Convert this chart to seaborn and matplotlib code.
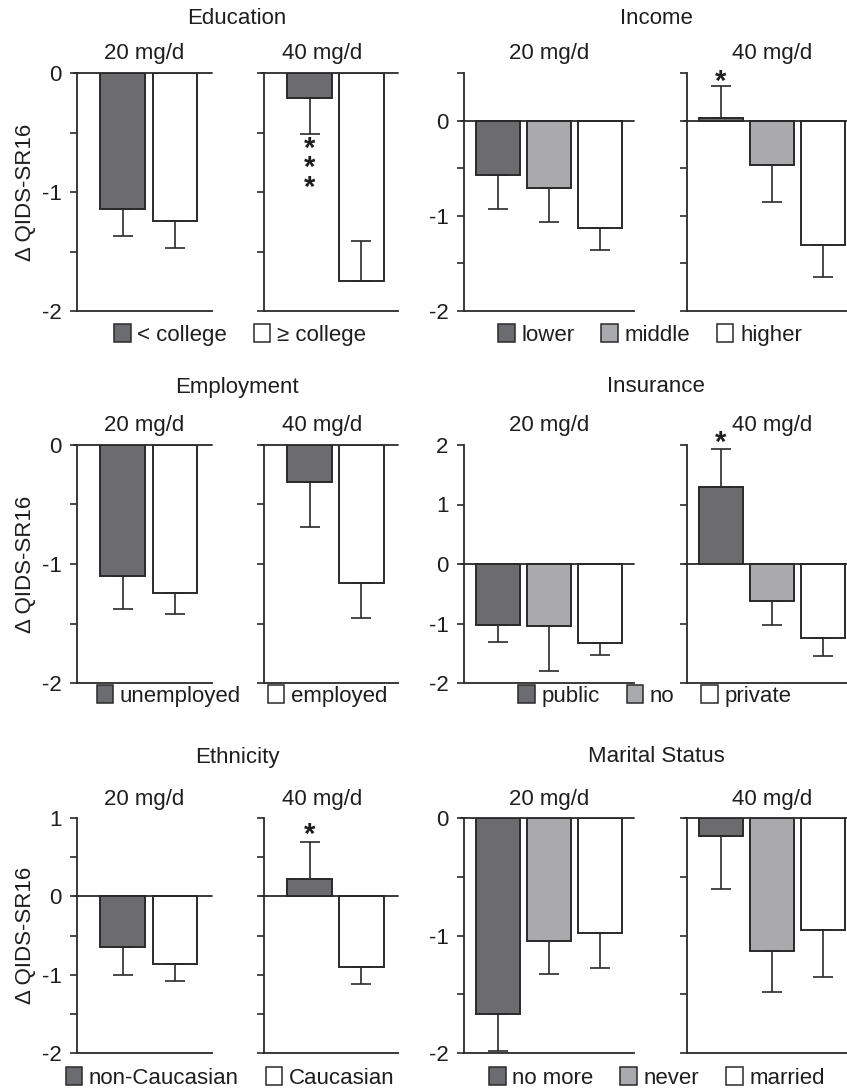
import matplotlib
matplotlib.use("Agg")
import matplotlib.pyplot as plt
from matplotlib.patches import Patch
import seaborn as sns

sns.set_style("white")
plt.rcParams['font.family'] = ['Liberation Sans', 'DejaVu Sans']
plt.rcParams['font.size'] = 16

# colours of the three groups
DARK = "#6b6c70"
MID = "#a9aaad"
WHITE = "#ffffff"
EDGE = "#2a2a2a"
TXT = "#1e1e1e"

# ---------------- data (bar value, end of error bar) ----------------
edu_labels = ["< college", "\u2265 college"]
edu_20 = [-1.14, -1.24]
edu_20_err = [-1.37, -1.47]
edu_40 = [-0.21, -1.75]
edu_40_err = [-0.51, -1.41]

inc_labels = ["lower", "middle", "higher"]
inc_20 = [-0.57, -0.71, -1.13]
inc_20_err = [-0.93, -1.07, -1.36]
inc_40 = [0.03, -0.47, -1.31]
inc_40_err = [0.36, -0.86, -1.64]

emp_labels = ["unemployed", "employed"]
emp_20 = [-1.10, -1.24]
emp_20_err = [-1.38, -1.42]
emp_40 = [-0.31, -1.16]
emp_40_err = [-0.69, -1.45]

ins_labels = ["public", "no", "private"]
ins_20 = [-1.03, -1.05, -1.33]
ins_20_err = [-1.31, -1.80, -1.53]
ins_40 = [1.30, -0.62, -1.24]
ins_40_err = [1.93, -1.03, -1.55]

eth_labels = ["non-Caucasian", "Caucasian"]
eth_20 = [-0.65, -0.86]
eth_20_err = [-1.01, -1.08]
eth_40 = [0.22, -0.90]
eth_40_err = [0.69, -1.12]

mar_labels = ["no more", "never", "married"]
mar_20 = [-1.67, -1.05, -0.98]
mar_20_err = [-1.98, -1.33, -1.28]
mar_40 = [-0.15, -1.13, -0.95]
mar_40_err = [-0.60, -1.48, -1.35]

# significance marks: (bar index, y, text)
edu_stars = (0, -0.80, "*\n*\n*")
inc_stars = (0, 0.41, "*")
ins_stars = (0, 2.04, "*")
eth_stars = (0, 0.79, "*")

W, H = 847, 1091
fig = plt.figure(figsize=(W / 100, H / 100), dpi=100)


def px_axes(x0, x1, y0, y1):
    return fig.add_axes([x0 / W, 1 - y1 / H, (x1 - x0) / W, (y1 - y0) / H])


def draw(ax, labels, vals, ends, colors, ylim, major, minor, xlim, show_labels, stars=None):
    sns.barplot(x=labels, y=vals, hue=labels, palette=colors, width=0.86,
                edgecolor=EDGE, linewidth=1.4, errorbar=None, legend=False,
                ax=ax, zorder=2)
    xs = list(range(len(vals)))
    lo = [max(v - e, 0) for v, e in zip(vals, ends)]
    hi = [max(e - v, 0) for v, e in zip(vals, ends)]
    ax.errorbar(xs, vals, yerr=[lo, hi], fmt="none", ecolor=EDGE,
                elinewidth=1.2, capsize=7, capthick=1.2, zorder=3)
    ax.axhline(0, color=EDGE, lw=1.3, zorder=4, xmin=-0.02, clip_on=False)
    ax.set_xlim(*xlim)
    ax.set_ylim(*ylim)
    ax.set_xticks([])
    ax.set_xlabel("")
    ax.set_ylabel("")
    ax.set_yticks(major)
    ax.set_yticks(minor, minor=True)
    ax.tick_params(axis="y", which="both", direction="out", length=5,
                   width=1.2, color=EDGE, left=True, pad=6, labelsize=16,
                   labelcolor=TXT)
    if not show_labels:
        ax.set_yticklabels([])
    else:
        ax.set_yticklabels([str(int(t)) for t in major])
    sns.despine(ax=ax, top=True, right=True)
    for s in ["left", "bottom"]:
        ax.spines[s].set_color(EDGE)
        ax.spines[s].set_linewidth(1.3)
    if stars is not None:
        ax.text(stars[0], stars[1], stars[2], ha="center", va="center",
                fontsize=21, fontweight="bold", linespacing=0.62, color=TXT)


def legend(labels, colors, cx, cy):
    handles = [Patch(facecolor=c, edgecolor=EDGE, linewidth=1.1) for c in colors]
    fig.legend(handles, labels, loc="center", bbox_to_anchor=(cx / W, 1 - cy / H),
               ncol=len(labels), frameon=False, handlelength=0.75, handleheight=0.85,
               handletextpad=0.3, columnspacing=1.2, fontsize=16, labelcolor=TXT)


two = [DARK, WHITE]
three = [DARK, MID, WHITE]
L20, L40 = (77, 212), (264, 398)
R20, R40 = (464, 634), (687, 847)
xl_left = (-0.88, 1.71)
xl_r20 = (-0.67, 2.67)
xl_r40 = (-0.66, 2.46)

rows = [
    # (title left, title right, y0, y1, title y, sub y, legend y)
    ("Education", "Income", 73, 311, 19, 53, 335),
    ("Employment", "Insurance", 445, 683, 387, 425, 696),
    ("Ethnicity", "Marital Status", 818, 1053, 757, 799, 1078),
]

# row 1
r = rows[0]
a = px_axes(*L20, r[2], r[3]); draw(a, edu_labels, edu_20, edu_20_err, two, (-2, 0), [0, -1, -2], [-0.5, -1.5], xl_left, True)
b = px_axes(*L40, r[2], r[3]); draw(b, edu_labels, edu_40, edu_40_err, two, (-2, 0), [0, -1, -2], [-0.5, -1.5], xl_left, False, edu_stars)
c = px_axes(*R20, r[2], r[3]); draw(c, inc_labels, inc_20, inc_20_err, three, (-2, 0.5), [0, -1, -2], [0.5, -0.5, -1.5], xl_r20, True)
d = px_axes(*R40, r[2], r[3]); draw(d, inc_labels, inc_40, inc_40_err, three, (-2, 0.5), [0, -1, -2], [0.5, -0.5, -1.5], xl_r40, False, inc_stars)

# row 2
r = rows[1]
a = px_axes(*L20, r[2], r[3]); draw(a, emp_labels, emp_20, emp_20_err, two, (-2, 0), [0, -1, -2], [-0.5, -1.5], xl_left, True)
b = px_axes(*L40, r[2], r[3]); draw(b, emp_labels, emp_40, emp_40_err, two, (-2, 0), [0, -1, -2], [-0.5, -1.5], xl_left, False)
c = px_axes(*R20, r[2], r[3]); draw(c, ins_labels, ins_20, ins_20_err, three, (-2, 2), [2, 1, 0, -1, -2], [], xl_r20, True)
d = px_axes(*R40, r[2], r[3]); draw(d, ins_labels, ins_40, ins_40_err, three, (-2, 2), [2, 1, 0, -1, -2], [], xl_r40, False, ins_stars)

# row 3
r = rows[2]
a = px_axes(*L20, r[2], r[3]); draw(a, eth_labels, eth_20, eth_20_err, two, (-2, 1), [1, 0, -1, -2], [0.5, -0.5, -1.5], xl_left, True)
b = px_axes(*L40, r[2], r[3]); draw(b, eth_labels, eth_40, eth_40_err, two, (-2, 1), [1, 0, -1, -2], [0.5, -0.5, -1.5], xl_left, False, eth_stars)
c = px_axes(*R20, r[2], r[3]); draw(c, mar_labels, mar_20, mar_20_err, three, (-2, 0), [0, -1, -2], [-0.5, -1.5], xl_r20, True)
d = px_axes(*R40, r[2], r[3]); draw(d, mar_labels, mar_40, mar_40_err, three, (-2, 0), [0, -1, -2], [-0.5, -1.5], xl_r40, False)

# titles, dose labels, y labels, legends
for r in rows:
    fig.text(237 / W, 1 - r[4] / H, r[0], ha="center", va="center", fontsize=16, color=TXT)
    fig.text(656 / W, 1 - r[4] / H, r[1], ha="center", va="center", fontsize=16, color=TXT)
    for cx, lab in [(144, "20 mg/d"), (322, "40 mg/d"), (549, "20 mg/d"), (772, "40 mg/d")]:
        fig.text(cx / W, 1 - r[5] / H, lab, ha="center", va="center", fontsize=16, color=TXT)
    fig.text(25 / W, 1 - (r[2] + r[3]) / 2 / H, "\u0394 QIDS-SR16", rotation=90,
             ha="center", va="center", fontsize=16, color=TXT)

legend(edu_labels, two, 240, rows[0][6])
legend(inc_labels, three, 650, rows[0][6])
legend(emp_labels, two, 242, rows[1][6])
legend(ins_labels, three, 655, rows[1][6])
legend(eth_labels, two, 230, rows[2][6])
legend(mar_labels, three, 657, rows[2][6])

fig.savefig("out.png", dpi=100)
